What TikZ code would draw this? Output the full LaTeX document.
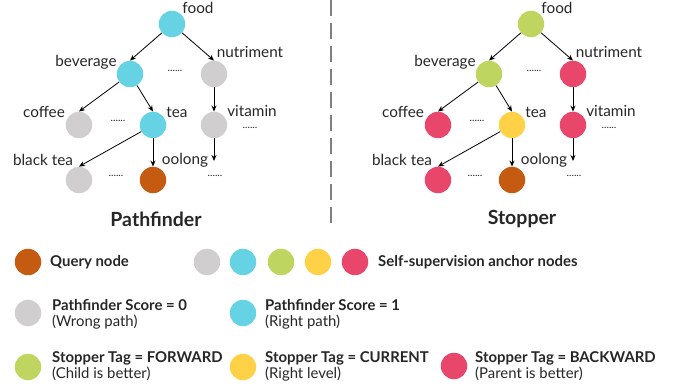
\documentclass[tikz,border=0pt]{standalone}
\usepackage{fontspec}
\setmainfont{Lato}
\usetikzlibrary{arrows.meta}
\definecolor{cgray}{HTML}{D0CECE}
\definecolor{ccyan}{HTML}{65D3E3}
\definecolor{cgreen}{HTML}{BED660}
\definecolor{cyellow}{HTML}{FFD147}
\definecolor{cred}{HTML}{E8476B}
\definecolor{cbrown}{HTML}{C55A11}
\definecolor{cline}{HTML}{7F7F7F}
\definecolor{ctext}{HTML}{262626}
\newcommand\mytree[9]{%
\begin{scope}[xshift=#1]
  \node[dot,fill=#3] (#2food) at (172,24) {};
  \node[dot,fill=#4] (#2bev) at (130,74) {};
  \node[dot,fill=#5] (#2nut) at (214,74) {};
  \node[dot,fill=#6] (#2cof) at (79,125) {};
  \node[dot,fill=#7] (#2tea) at (153,125) {};
  \node[dot,fill=#8] (#2vit) at (214,125) {};
  \node[dot,fill=#9] (#2blk) at (79,180) {};
  \node[dot,fill=cbrown] (#2ool) at (153,180) {};
  \coordinate (#2vend) at (214,161);
  \node[lbl] (#2tfood) at (198,8) {food};
  \node[lbl] (#2tbev) at (86,62) {beverage};
  \node[lbl] (#2tnut) at (250,52) {nutriment};
  \node[lbl] (#2tcof) at (44,112) {coffee};
  \node[lbl] (#2ttea) at (177,112) {tea};
  \node[lbl] (#2tvit) at (252,111) {vitamin};
  \node[lbl] (#2tblk) at (43,160) {black tea};
  \node[lbl] (#2tool) at (185,160) {oolong};
  \node[dts] (#2d1) at (175,71) {......};
  \node[dts] (#2d2) at (118,121) {......};
  \node[dts] (#2d3) at (250,127.5) {......};
  \node[dts] (#2d4) at (116,176) {......};
  \node[dts] (#2d5) at (215,176) {......};
  \draw[arr] (#2food) -- (#2bev.north);
  \draw[arr] (#2food) -- (#2nut.north);
  \draw[arr] (#2bev) -- (#2cof.north);
  \draw[arr] (#2bev) -- (#2tea.north);
  \draw[arr] (#2nut) -- (#2vit.north);
  \draw[arr] (#2vit) -- (#2vend);
  \draw[arr] (#2tea) -- (#2blk.north);
  \draw[arr] (#2tea) -- (#2ool.north);
\end{scope}}
\begin{document}
\begin{tikzpicture}[x=1pt,y=-1pt,
  dot/.style={circle,minimum size=26.5pt,inner sep=0pt},
  lbl/.style={font=\fontsize{15.3}{17}\selectfont,inner sep=0pt,text=ctext},
  dts/.style={font=\fontsize{10.5}{11}\selectfont,inner sep=0pt,text=ctext,text height=1.5pt,text depth=0pt},
  arr/.style={-{Stealth[length=6pt,width=5pt]},line width=0.8pt},
  ttl/.style={font=\fontsize{19.5}{21}\selectfont\bfseries,inner sep=0pt,text=ctext},
  leg/.style={font=\fontsize{14.9}{16}\selectfont,inner sep=0pt,anchor=west,align=left,text=ctext},
  sep/.style={draw=cline,line width=1.5pt,dash pattern=on 16pt off 7pt}]
\useasboundingbox (0,0) rectangle (686,390);
\mytree{0pt}{L}{ccyan}{ccyan}{cgray}{cgray}{ccyan}{cgray}{cgray}
\mytree{359pt}{R}{cgreen}{cgreen}{cred}{cred}{cyellow}{cred}{cred}
\coordinate (st) at (331,0);
\coordinate (sb) at (331,223);
\draw[sep] (st) -- (sb);
\node[ttl] (t1) at (156,219) {Pathfinder};
\node[ttl] (t2) at (522,219) {Stopper};
% legend
\node[dot,fill=cbrown] (q) at (28,262) {};
\node[leg] (qt) at (50,262) {\bfseries Query node};
\node[dot,fill=cgray] (a1) at (207,262) {};
\node[dot,fill=ccyan] (a2) at (243,262) {};
\node[dot,fill=cgreen] (a3) at (281,262) {};
\node[dot,fill=cyellow] (a4) at (318,262) {};
\node[dot,fill=cred] (a5) at (355,262) {};
\node[leg] (at) at (378,262) {\bfseries Self-supervision anchor nodes};
\node[dot,fill=cgray] (p0) at (28,313) {};
\node[leg] (p0t) at (52,314) {\bfseries Pathfinder Score = 0\\(Wrong path)};
\node[dot,fill=ccyan] (p1) at (243,313) {};
\node[leg] (p1t) at (265,314) {\bfseries Pathfinder Score = 1\\(Right path)};
\node[dot,fill=cgreen] (s1) at (28,367) {};
\node[leg] (s1t) at (52,366) {\bfseries Stopper Tag = FORWARD\\(Child is better)};
\node[dot,fill=cyellow] (s2) at (243,367) {};
\node[leg] (s2t) at (265,366) {\bfseries Stopper Tag = CURRENT\\(Right level)};
\node[dot,fill=cred] (s3) at (454,366) {};
\node[leg] (s3t) at (475,366) {\bfseries Stopper Tag = BACKWARD\\(Parent is better)};
\end{tikzpicture}
\end{document}
